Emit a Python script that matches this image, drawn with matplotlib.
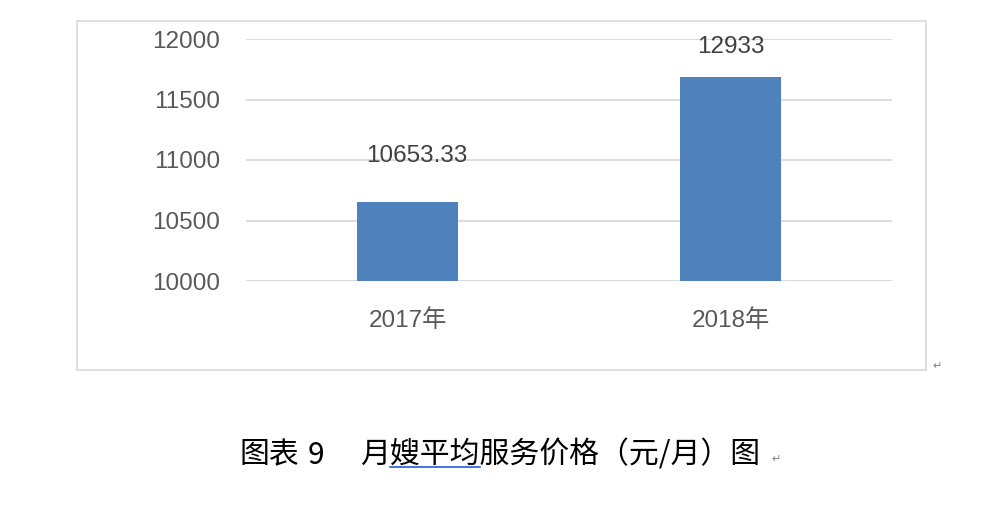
import matplotlib
matplotlib.use("Agg")
import matplotlib.pyplot as plt
from matplotlib.patches import Rectangle
from matplotlib.lines import Line2D

plt.rcParams['font.family'] = ['Liberation Sans', 'Noto Sans CJK SC', 'DejaVu Sans']

# data (bar heights as drawn, labels as printed)
categories = ["2017年", "2018年"]
bar_heights = [10650, 11690]
bar_labels = ["10653.33", "12933"]
y_ticks = [10000, 10500, 11000, 11500, 12000]
caption_parts = ["图表", "9", "月嫂平均服务价格（元/月）图"]

W, H = 1001, 507
fig = plt.figure(figsize=(W / 100, H / 100), dpi=100)
fig.patch.set_facecolor("white")

# outer chart frame
fig.add_artist(Rectangle((77 / W, 1 - 370 / H), (926 - 77) / W, (370 - 21) / H,
                         transform=fig.transFigure, fill=False,
                         edgecolor="#d9d9d9", linewidth=1.2))

ax = fig.add_axes([246 / W, 1 - 281 / H, (892 - 246) / W, (281 - 39) / H])
x = range(len(categories))
ax.bar(x, bar_heights, width=0.31, color="#4f81bd", zorder=3)
ax.set_xlim(-0.5, 1.5)
ax.set_ylim(10000, 12000)
ax.set_yticks(y_ticks)
ax.set_yticklabels([str(t) for t in y_ticks])
ax.set_xticks(list(x))
ax.set_xticklabels(categories)
ax.grid(axis="y", color="#d9d9d9", linewidth=1.3, zorder=0)
ax.tick_params(axis="y", length=0, pad=18.5, labelsize=17.5, colors="#595959")
ax.tick_params(axis="x", length=0, pad=20, labelsize=17.5, colors="#595959")
for s in ax.spines.values():
    s.set_visible(False)
ax.axhline(10000, color="#d9d9d9", linewidth=1.3, zorder=1)

# label positions measured in pixels on the reference
label_y = [10000 + (281 - 156) / 0.121, 10000 + (281 - 47) / 0.121]
label_dx = [0.03, 0.0]
for xi, lab, ly, dx in zip(x, bar_labels, label_y, label_dx):
    ax.text(xi + dx, ly, lab, ha="center", va="center",
            fontsize=17.5, color="#404040", clip_on=False)

cjk = ['Noto Sans CJK SC', 'DejaVu Sans']
for part, px in zip(caption_parts, [240, 308, 360]):
    fig.text(px / W, 1 - 455 / H, part, ha="left", va="center",
             fontsize=21.5, color="black", family=cjk)
fig.add_artist(Line2D([390 / W, 480 / W], [1 - 467 / H, 1 - 467 / H],
                      transform=fig.transFigure, color="#2a5bd7", linewidth=1.2))
fig.text(937 / W, 1 - 366 / H, "↵", fontsize=8, color="#808080",
         ha="center", va="center", family="DejaVu Sans")
fig.text(776 / W, 1 - 459 / H, "↵", fontsize=8, color="#808080",
         ha="center", va="center", family="DejaVu Sans")

fig.savefig("out.png", dpi=100)
